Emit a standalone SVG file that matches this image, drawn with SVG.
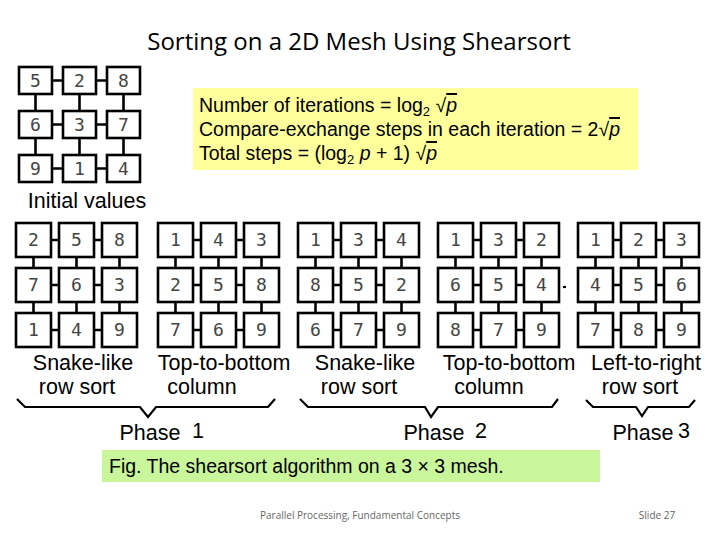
<svg xmlns="http://www.w3.org/2000/svg" width="720" height="540" viewBox="0 0 720 540">
<style>
.b{fill:#fff;stroke:#000;stroke-width:2.6}
.c{stroke:#000;stroke-width:2.6}
.n{font-family:"DejaVu Sans Mono","Liberation Mono",monospace;font-size:18px;fill:#444;text-anchor:middle}
.l{font-family:"Liberation Sans",Arial,sans-serif;font-size:21.5px;fill:#000;text-anchor:middle}
.f{font-family:"Liberation Sans",Arial,sans-serif;font-size:19.5px;fill:#000}
.br{fill:none;stroke:#000;stroke-width:2.2}
</style>
<defs>
<g id="mesh">
<path class="c" d="M35,17H43M78,17H86M35,62H43M78,62H86M35,107H43M78,107H86M17.5,34V45M60.5,34V45M103.5,34V45M17.5,79V90M60.5,79V90M103.5,79V90"/>
<rect class="b" x="0" y="0" width="35" height="34"/><rect class="b" x="43" y="0" width="35" height="34"/><rect class="b" x="86" y="0" width="35" height="34"/>
<rect class="b" x="0" y="45" width="35" height="34"/><rect class="b" x="43" y="45" width="35" height="34"/><rect class="b" x="86" y="45" width="35" height="34"/>
<rect class="b" x="0" y="90" width="35" height="34"/><rect class="b" x="43" y="90" width="35" height="34"/><rect class="b" x="86" y="90" width="35" height="34"/>
</g>
<g id="mesh0">
<path class="c" d="M33,13.5H44M77,13.5H88M33,57.5H44M77,57.5H88M33,101.5H44M77,101.5H88M16.5,27V44M60.5,27V44M104.5,27V44M16.5,71V88M60.5,71V88M104.5,71V88"/>
<rect class="b" x="0" y="0" width="33" height="27"/><rect class="b" x="44" y="0" width="33" height="27"/><rect class="b" x="88" y="0" width="33" height="27"/>
<rect class="b" x="0" y="44" width="33" height="27"/><rect class="b" x="44" y="44" width="33" height="27"/><rect class="b" x="88" y="44" width="33" height="27"/>
<rect class="b" x="0" y="88" width="33" height="27"/><rect class="b" x="44" y="88" width="33" height="27"/><rect class="b" x="88" y="88" width="33" height="27"/>
</g>
</defs>
<rect width="720" height="540" fill="#fff"/>
<text x="359" y="50" font-family="'Open Sans','Noto Sans',sans-serif" font-size="24" text-anchor="middle" fill="#000">Sorting on a 2D Mesh Using Shearsort</text>

<g id="initial">
<use href="#mesh0" x="19" y="67"/>
<g class="n"><text x="35.5" y="87">5</text><text x="79.5" y="87">2</text><text x="123.5" y="87">8</text>
<text x="35.5" y="131">6</text><text x="79.5" y="131">3</text><text x="123.5" y="131">7</text>
<text x="35.5" y="175">9</text><text x="79.5" y="175">1</text><text x="123.5" y="175">4</text></g>
<text class="l" x="87" y="208" font-size="22">Initial values</text>
</g>

<g id="formulas">
<rect x="193" y="88" width="445" height="82" fill="#ffff9c"/>
<text class="f" x="199" y="112">Number of iterations = log<tspan font-size="13" dy="4">2</tspan><tspan dy="-4"> √<tspan font-style="italic" text-decoration="overline">p</tspan></tspan></text>
<text class="f" x="199" y="136">Compare-exchange steps in each iteration = 2√<tspan font-style="italic" text-decoration="overline">p</tspan></text>
<text class="f" x="199" y="160">Total steps = (log<tspan font-size="13" dy="4">2</tspan><tspan dy="-4"> <tspan font-style="italic">p</tspan> + 1) √<tspan font-style="italic" text-decoration="overline">p</tspan></tspan></text>
</g>

<g id="g1">
<use href="#mesh" x="16" y="223"/>
<g class="n"><text x="33.5" y="246">2</text><text x="76.5" y="246">5</text><text x="119.5" y="246">8</text>
<text x="33.5" y="291">7</text><text x="76.5" y="291">6</text><text x="119.5" y="291">3</text>
<text x="33.5" y="336">1</text><text x="76.5" y="336">4</text><text x="119.5" y="336">9</text></g>
<text class="l" x="83" y="370">Snake-like</text><text class="l" x="77" y="394">row sort</text>
</g>
<g id="g2">
<use href="#mesh" x="158" y="223"/>
<g class="n"><text x="175.5" y="246">1</text><text x="218.5" y="246">4</text><text x="261.5" y="246">3</text>
<text x="175.5" y="291">2</text><text x="218.5" y="291">5</text><text x="261.5" y="291">8</text>
<text x="175.5" y="336">7</text><text x="218.5" y="336">6</text><text x="261.5" y="336">9</text></g>
<text class="l" x="224" y="370">Top-to-bottom</text><text class="l" x="202" y="394">column</text>
</g>
<g id="g3">
<use href="#mesh" x="298" y="223"/>
<g class="n"><text x="315.5" y="246">1</text><text x="358.5" y="246">3</text><text x="401.5" y="246">4</text>
<text x="315.5" y="291">8</text><text x="358.5" y="291">5</text><text x="401.5" y="291">2</text>
<text x="315.5" y="336">6</text><text x="358.5" y="336">7</text><text x="401.5" y="336">9</text></g>
<text class="l" x="365" y="370">Snake-like</text><text class="l" x="359" y="394">row sort</text>
</g>
<g id="g4">
<use href="#mesh" x="438" y="223"/>
<g class="n"><text x="455.5" y="246">1</text><text x="498.5" y="246">3</text><text x="541.5" y="246">2</text>
<text x="455.5" y="291">6</text><text x="498.5" y="291">5</text><text x="541.5" y="291">4</text>
<text x="455.5" y="336">8</text><text x="498.5" y="336">7</text><text x="541.5" y="336">9</text></g>
<text class="l" x="509" y="370">Top-to-bottom</text><text class="l" x="489" y="394">column</text>
</g>
<g id="g5">
<use href="#mesh" x="578" y="223"/>
<g class="n"><text x="595.5" y="246">1</text><text x="638.5" y="246">2</text><text x="681.5" y="246">3</text>
<text x="595.5" y="291">4</text><text x="638.5" y="291">5</text><text x="681.5" y="291">6</text>
<text x="595.5" y="336">7</text><text x="638.5" y="336">8</text><text x="681.5" y="336">9</text></g>
<text class="l" x="646" y="370">Left-to-right</text><text class="l" x="640" y="394">row sort</text>
</g>

<g id="connectors">
<path class="br" d="M17,399L25,407H140L148,417L156,407H268L275,399"/>
<path class="br" d="M300,399L308,407H425L431,417L438,407H552L558,399"/>
<path class="br" d="M586,400L593,407H636L642,416L648,407H689L695,400"/>
<path class="br" d="M563,287H566"/>
</g>

<g id="phases">
<text class="l" x="150" y="440" font-size="22">Phase</text><text class="l" x="198" y="438" font-size="19">1</text>
<text class="l" x="434" y="440" font-size="22">Phase</text><text class="l" x="481" y="438" font-size="19">2</text>
<text class="l" x="643" y="440" font-size="22">Phase</text><text class="l" x="684" y="438" font-size="19">3</text>
</g>

<g id="caption">
<rect x="102" y="450" width="498" height="32" fill="#c9f59b"/>
<text class="f" x="109" y="473" font-size="20.5">Fig. The shearsort algorithm on a 3 × 3 mesh.</text>
</g>
<text x="360" y="519" font-family="'Open Sans','Noto Sans',sans-serif" font-size="10" fill="#666" text-anchor="middle">Parallel Processing, Fundamental Concepts</text>
<text x="657" y="519" font-family="'Open Sans','Noto Sans',sans-serif" font-size="10" fill="#666" text-anchor="middle">Slide 27</text>
</svg>
